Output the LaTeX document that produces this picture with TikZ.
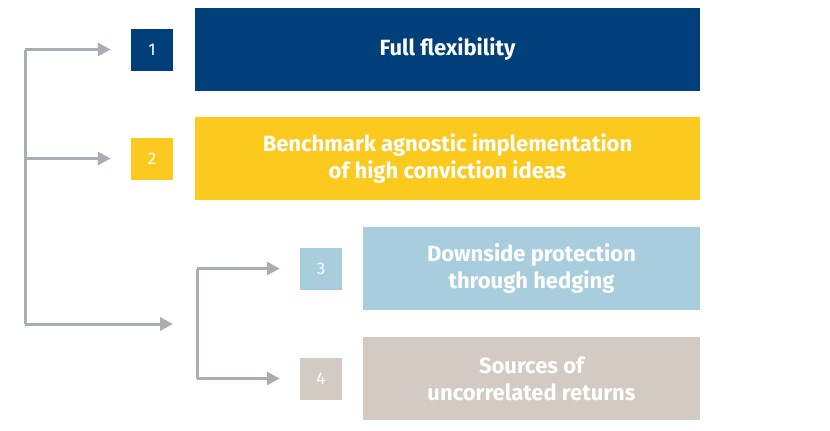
\documentclass[tikz,border=0pt]{standalone}
\usepackage{fontspec}
\setmainfont{Fira Sans}
\usetikzlibrary{arrows.meta,positioning}
\definecolor{darkblue}{HTML}{003F7A}
\definecolor{sunyellow}{HTML}{FCC91E}
\definecolor{lightblue}{HTML}{A8CEDE}
\definecolor{beige}{HTML}{D3CBC3}
\definecolor{arrowgray}{HTML}{A9AEB3}
\begin{document}
\begin{tikzpicture}
[x=1pt, y=-1pt, >={Triangle[length=13pt,width=13pt]},
every node/.style={text=white, font=\fontsize{22}{27}\selectfont\bfseries, align=center, inner sep=0pt},
bigbox/.style={minimum height=83pt},
numbox/.style={minimum width=42pt, minimum height=42pt, font=\fontsize{17}{20}\selectfont},
link/.style={->, draw=arrowgray, line width=3pt}
]
  \useasboundingbox (0,0) rectangle (830,431);
  \node[bigbox, fill=darkblue, minimum width=505pt]  (full)   at (447.5,49.5)  {Full flexibility};
  \node[bigbox, fill=sunyellow, minimum width=505pt] (agnost) at (447.5,158.5) {Benchmark agnostic implementation\\of high conviction ideas};
  \node[bigbox, fill=lightblue, minimum width=337pt] (hedge)  at (531.5,268.5) {Downside protection\\through hedging};
  \node[bigbox, fill=beige, minimum width=337pt]     (uncorr) at (531.5,378.5) {Sources of\\uncorrelated returns};

  \node[numbox, fill=darkblue]  (n1) at (152,49.5)  {1};
  \node[numbox, fill=sunyellow] (n2) at (152,158.5) {2};
  \node[numbox, fill=lightblue] (n3) at (321,268.5) {3};
  \node[numbox, fill=beige]     (n4) at (321,378.5) {4};

  % brackets
  \coordinate (top)  at (25,49.5);
  \coordinate (mid)  at (25,158.5);
  \coordinate (bot)  at (25,324);
  \coordinate (end3) at (173,324);
  \coordinate (sub3) at (197,268.5);
  \coordinate (sub4) at (197,378.5);

  \draw[draw=arrowgray, line width=3pt] (top) -- (bot);
  \draw[link] (top) -- ([xshift=-20pt]n1.west);
  \draw[link] (mid) -- ([xshift=-20pt]n2.west);
  \draw[link] (bot) -- (end3);
  \draw[draw=arrowgray, line width=3pt] (sub3) -- (sub4);
  \draw[link] (sub3) -- ([xshift=-20pt]n3.west);
  \draw[link] (sub4) -- ([xshift=-20pt]n4.west);
\end{tikzpicture}
\end{document}
